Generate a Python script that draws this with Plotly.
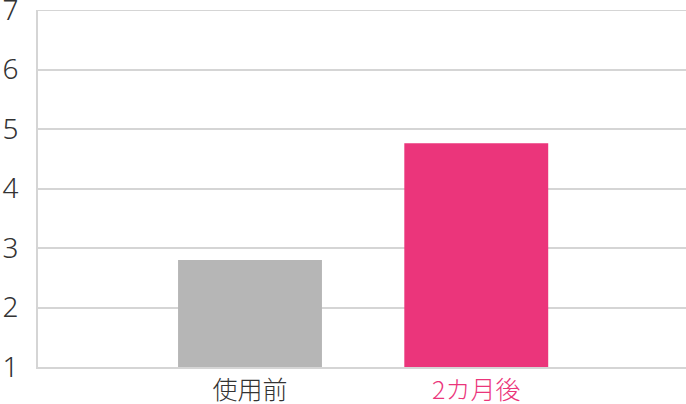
import plotly.graph_objects as go

categories = ["使用前", "2カ月後"]
values = [2.8, 4.76]
bar_colors = ["#b6b6b6", "#eb357b"]
label_colors = ["#333333", "#eb357b"]
y_ticks = [1, 2, 3, 4, 5, 6, 7]

tick_text = ['<span style="color:%s">%s</span>' % (c, t) for c, t in zip(label_colors, categories)]

fig = go.Figure(go.Bar(
    x=categories,
    y=[v - 1 for v in values],
    base=1,
    width=0.636,
    marker=dict(color=bar_colors, line=dict(width=0)),
    hoverinfo="skip",
))

# top gridline (plotly skips it at the range edge)
fig.add_hline(y=y_ticks[-1], line=dict(color="#d5d5d5", width=2), layer="below")

fig.update_layout(
    width=686, height=404,
    margin=dict(l=38, r=0, t=10, b=37),
    plot_bgcolor="white", paper_bgcolor="white",
    showlegend=False,
    font=dict(family="Noto Sans CJK JP", color="#333333"),
)
fig.update_xaxes(
    range=[-0.937, 1.927],
    tickvals=categories, ticktext=tick_text,
    tickfont=dict(size=25, weight=300),
    showline=True, linecolor="#d5d5d5", linewidth=2,
    showgrid=False, ticks="", ticklabeloverflow="allow",
    automargin=False,
)
fig.update_yaxes(
    range=[1, 7], tickvals=y_ticks,
    tickfont=dict(size=28, weight=300, family="Noto Sans"),
    showline=True, linecolor="#d5d5d5", linewidth=2,
    gridcolor="#d5d5d5", gridwidth=2,
    ticks="", ticklabelstandoff=12, ticklabeloverflow="allow",
    zeroline=False, automargin=False,
)

fig.write_html("out.html", config={"displayModeBar": False},
               post_script="document.body.style.margin='0';")
